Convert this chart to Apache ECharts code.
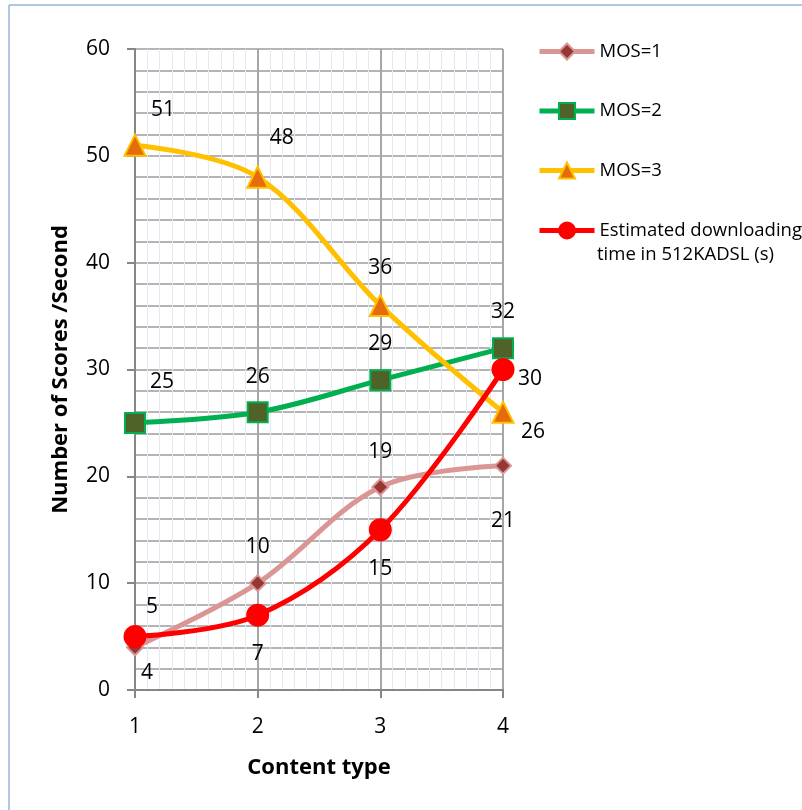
<!DOCTYPE html>
<html>
<head>
<meta charset="utf-8">
<script src="https://cdn.jsdelivr.net/npm/echarts@6/dist/echarts.min.js"></script>
<style>
html,body{margin:0;padding:0;background:#fff;}
#chart{width:802px;height:810px;}
</style>
</head>
<body>
<div id="chart"></div>
<script>
// ---- data ----
var contentTypes = [1, 2, 3, 4];
var mos1 = [4, 10, 19, 21];
var mos2 = [25, 26, 29, 32];
var mos3 = [51, 48, 36, 26];
var downloadTime = [5, 7, 15, 30];
var seriesNames = ['MOS=1', 'MOS=2', 'MOS=3', 'Estimated downloading time in 512KADSL (s)'];
var legendLine1 = 'Estimated downloading';
var legendLine2 = 'time in 512KADSL (s)';
var yTicks = [0, 10, 20, 30, 40, 50, 60];

var FONT = '"Open Sans", "Liberation Sans", sans-serif';

function pairs(vals) {
  return contentTypes.map(function (c, i) { return [c, vals[i]]; });
}

// label offsets (styling only)
var labelOffsets = {
  0: [[12, 26], [0, -36], [0, -35], [0, 55]],
  1: [[27, -41], [0, -35], [0, -36], [0, -36]],
  2: [[28, -35], [24, -39], [0, -37], [30, 20]],
  3: [[17, -30], [0, 39], [0, 39], [27, 10]]
};

function makeSeries(idx, vals, lineColor, symbol, symbolSize, fill, border) {
  var data = pairs(vals).map(function (p, i) {
    return {
      value: p,
      label: { offset: labelOffsets[idx][i] }
    };
  });
  return {
    name: seriesNames[idx],
    type: 'line',
    smooth: 0.35,
    data: data,
    symbol: symbol,
    symbolSize: symbolSize,
    lineStyle: { color: lineColor, width: 5 },
    itemStyle: { color: fill, borderColor: border, borderWidth: 2 },
    label: {
      show: true,
      position: 'inside',
      color: '#000',
      fontFamily: FONT,
      fontSize: 21,
      formatter: function (p) { return p.value[1]; }
    },
    emphasis: { disabled: true },
    z: 3 + idx
  };
}

var chart = echarts.init(document.getElementById('chart'), null, { renderer: 'canvas' });

var legendCommon = {
  orient: 'vertical',
  left: 532,
  itemWidth: 55,
  itemHeight: 20,
  itemGap: 39,
  selectedMode: false,
  lineStyle: { width: 5 },
  textStyle: { fontFamily: FONT, fontSize: 18.5, color: '#000' }
};

var option = {
  animation: false,
  backgroundColor: '#fff',
  grid: { left: 135, right: 299, top: 49, bottom: 120, containLabel: false },
  legend: [
    Object.assign({}, legendCommon, { top: 37, itemGap: 40.5, data: seriesNames.slice(0, 3) }),
    Object.assign({}, legendCommon, {
      top: 216,
      data: [seriesNames[3]],
      formatter: function () { return legendLine1; }
    }),
    Object.assign({}, legendCommon, {
      top: 240,
      icon: 'rect',
      itemStyle: { color: 'rgba(0,0,0,0)', borderWidth: 0, opacity: 0 },
      lineStyle: { opacity: 0, width: 0 },
      data: [{ name: seriesNames[3], icon: 'rect', itemStyle: { opacity: 0 } }],
      formatter: function () { return legendLine2; }
    })
  ],
  xAxis: {
    type: 'value',
    min: 1,
    max: 4,
    interval: 1,
    name: 'Content type',
    nameLocation: 'middle',
    nameGap: 78,
    nameTextStyle: { fontFamily: FONT, fontSize: 22, fontWeight: 'bold', color: '#000', verticalAlign: 'middle' },
    axisLine: { show: true, onZero: false, lineStyle: { color: '#868686', width: 2 } },
    axisTick: { show: true, length: 8, lineStyle: { color: '#868686', width: 2 } },
    axisLabel: { fontFamily: FONT, fontSize: 21, color: '#000', margin: 27 },
    splitLine: { show: true, lineStyle: { color: '#a6a6a6', width: 2 } },
    minorTick: { show: false, splitNumber: 10 },
    minorSplitLine: { show: true, lineStyle: { color: '#e6e9f2', width: 1 } }
  },
  yAxis: {
    type: 'value',
    min: 0,
    max: 60,
    interval: 10,
    name: 'Number of Scores /Second',
    nameLocation: 'middle',
    nameGap: 63,
    nameTextStyle: { fontFamily: FONT, fontSize: 22, fontWeight: 'bold', color: '#000' },
    axisLine: { show: true, lineStyle: { color: '#868686', width: 2 } },
    axisTick: { show: true, length: 8, lineStyle: { color: '#868686', width: 2 } },
    axisLabel: { fontFamily: FONT, fontSize: 21, color: '#000', margin: 25,
      formatter: function (v) { return yTicks.indexOf(v) >= 0 ? String(v) : ''; } },
    splitLine: { show: true, lineStyle: { color: '#b4b4b4', width: 2 } },
    minorTick: { show: false, splitNumber: 5 },
    minorSplitLine: { show: true, lineStyle: { color: '#b4b4b4', width: 2 } }
  },
  graphic: [
    { type: 'line', shape: { x1: 9, y1: 5, x2: 802, y2: 5 }, style: { stroke: '#95b3de', lineWidth: 1.5 }, silent: true },
    { type: 'line', shape: { x1: 9, y1: 5, x2: 9, y2: 810 }, style: { stroke: '#95b3de', lineWidth: 1.5 }, silent: true }
  ],
  series: [
    makeSeries(0, mos1, '#d99694', 'diamond', 16, '#953735', '#d99694'),
    makeSeries(1, mos2, '#00b050', 'rect', 20, '#4f6228', '#00b050'),
    makeSeries(2, mos3, '#ffc000', 'triangle', 21, '#e46c0a', '#ffc000'),
    makeSeries(3, downloadTime, '#ff0000', 'circle', 21, '#ff0000', '#ff0000')
  ]
};

chart.setOption(option);
</script>
</body>
</html>
